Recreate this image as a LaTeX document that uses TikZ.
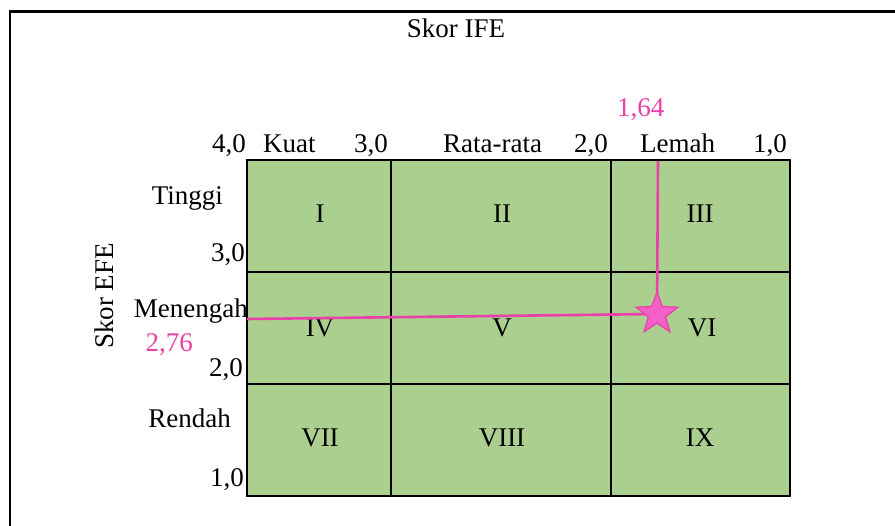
\documentclass[tikz,border=0pt]{standalone}
\usepackage{fontspec}
\setmainfont{Liberation Serif}
\usetikzlibrary{shapes.geometric}
\definecolor{cellgreen}{RGB}{171,207,142}
\definecolor{pinkmark}{RGB}{234,64,170}
\definecolor{starfill}{RGB}{243,96,200}
\begin{document}
\begin{tikzpicture}[x=1pt,y=-1pt,
  lbl/.style={inner sep=0pt,font=\fontsize{27}{27}\selectfont,text=black},
  pinklbl/.style={lbl,text=pinkmark},
  gridline/.style={line width=1.6pt,black},
  markerline/.style={line width=2.6pt,pinkmark},
  starbox/.style={star,star points=5,star point ratio=2.4,minimum size=44pt,inner sep=0pt,
      draw=pinkmark,fill=starfill,line width=1.2pt}]
\useasboundingbox (0,0) rectangle (895,526);
% frame
\draw[line width=3pt] (9,12) -- (895,12);
\draw[line width=2pt] (10,11) -- (10,526);
% grid
\fill[cellgreen] (247,160) rectangle (790,496);
\draw[gridline] (391,160) -- (391,496);
\draw[gridline] (611,160) -- (611,496);
\draw[gridline] (247,272) -- (790,272);
\draw[gridline] (247,384) -- (790,384);
\draw[line width=2.6pt] (247,160) rectangle (790,496);
% titles
\node[lbl,anchor=base] (ife) at (456,38) {Skor IFE};
\node[lbl,anchor=base,rotate=90] (efe) at (113,296) {Skor EFE};
% top axis
\node[lbl,anchor=base west] (t40) at (212,153) {4,0};
\node[lbl,anchor=base west] (kuat) at (263,153) {Kuat};
\node[lbl,anchor=base west] (t30) at (354,153) {3,0};
\node[lbl,anchor=base west] (rata) at (443,153) {Rata-rata};
\node[lbl,anchor=base west] (t20) at (574,153) {2,0};
\node[lbl,anchor=base west] (lemah) at (640,153) {Lemah};
\node[lbl,anchor=base west] (t10) at (753,153) {1,0};
\node[pinklbl,anchor=base west] (v164) at (617,117) {1,64};
% left axis
\node[lbl,anchor=base east] (tinggi) at (223,205) {Tinggi};
\node[lbl,anchor=base east] (l30) at (245,262) {3,0};
\node[lbl,anchor=base east] (menengah) at (248,318) {Menengah};
\node[pinklbl,anchor=base east] (v276) at (193,352) {2,76};
\node[lbl,anchor=base east] (l20) at (243,377) {2,0};
\node[lbl,anchor=base east] (rendah) at (231,428) {Rendah};
\node[lbl,anchor=base east] (l10) at (244,487) {1,0};
% cells
\node[lbl,anchor=base] (c1) at (320,223) {I};
\node[lbl,anchor=base] (c2) at (502,223) {II};
\node[lbl,anchor=base] (c3) at (700,223) {III};
\node[lbl,anchor=base] (c4) at (320,337) {IV};
\node[lbl,anchor=base] (c5) at (502,337) {V};
\node[lbl,anchor=base] (c6) at (702,337) {VI};
\node[lbl,anchor=base] (c7) at (320,447) {VII};
\node[lbl,anchor=base] (c8) at (502,447) {VIII};
\node[lbl,anchor=base] (c9) at (700,447) {IX};
% position marker
\coordinate (vtop) at (658,161);
\coordinate (hleft) at (247,319);
\coordinate (posc) at (657,314);
\draw[markerline] (vtop) -- (posc);
\draw[markerline] (hleft) -- (posc);
\node[starbox] (pos) at (posc) {};
\end{tikzpicture}
\end{document}
